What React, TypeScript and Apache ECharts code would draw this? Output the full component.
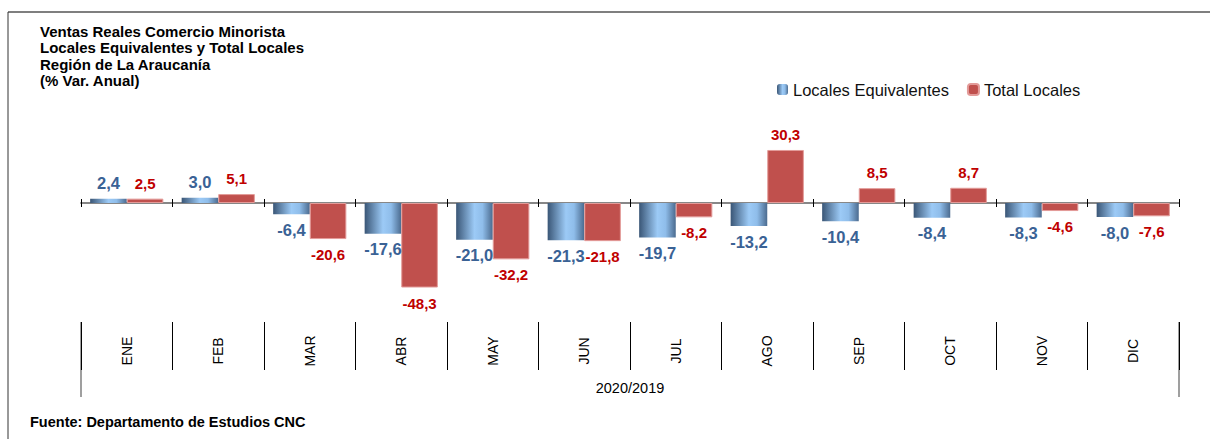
import React, { useEffect, useRef } from "react";
import * as echarts from "echarts";

const categories = ["ENE", "FEB", "MAR", "ABR", "MAY", "JUN", "JUL", "AGO", "SEP", "OCT", "NOV", "DIC"];
const equivalentes = [2.4, 3.0, -6.4, -17.6, -21.0, -21.3, -19.7, -13.2, -10.4, -8.4, -8.3, -8.0];
const totales = [2.5, 5.1, -20.6, -48.3, -32.2, -21.8, -8.2, 30.3, 8.5, 8.7, -4.6, -7.6];
const seriesNames = ["Locales Equivalentes", "Total Locales"];
const titleLines = [
  "Ventas Reales Comercio Minorista",
  "Locales Equivalentes y Total Locales",
  "Región de La Araucanía",
  "(% Var. Anual)",
];
const periodLabel = "2020/2019";
const sourceText = "Fuente: Departamento de Estudios CNC";

const FONT = "'Liberation Sans', Arial, sans-serif";
const fmt = (v: number) => v.toFixed(1).replace(".", ",");

const blueGradient = new echarts.graphic.LinearGradient(0, 0, 1, 0, [
  { offset: 0, color: "#3a5676" },
  { offset: 0.5, color: "#9ccaf6" },
  { offset: 0.72, color: "#8fbdea" },
  { offset: 1, color: "#4b6b8f" },
]);

function toData(values: number[]) {
  return values.map((v) => ({
    value: v,
    label: { position: v >= 0 ? "top" : "bottom" },
  }));
}

export default function App() {
  const ref = useRef<HTMLDivElement>(null);
  useEffect(() => {
    document.body.style.margin = "0";
    const chart = echarts.init(ref.current!, null, { renderer: "svg" });
    const gridLeft = 81;
    const gridRight = 31;
    const axisBottom = 322;
    const width = 1210;
    const yMin = -68;
    const yMax = 40;
    chart.setOption({
      animation: false,
      backgroundColor: "#fff",
      title: {
        text: titleLines.join("\n"),
        left: 40,
        top: 23,
        padding: 0,
        textStyle: { fontFamily: FONT, fontSize: 15, fontWeight: "bold", color: "#000", lineHeight: 16.5 },
      },
      legend: {
        left: 772,
        top: 76,
        itemWidth: 11,
        itemHeight: 11,
        itemGap: 18,
        data: seriesNames,
        textStyle: { fontFamily: FONT, fontSize: 16.5, color: "#111" },
      },
      grid: { left: gridLeft, right: gridRight, top: 133, bottom: 439 - axisBottom },
      xAxis: [
        {
          type: "category",
          data: categories,
          position: "bottom",
          axisLine: { show: false, onZero: false },
          axisTick: { show: true, length: 48, lineStyle: { color: "#000" } },
          axisLabel: {
            rotate: 90,
            margin: 29,
            align: "center",
            verticalAlign: "middle",
            fontFamily: FONT,
            fontSize: 14,
            color: "#000",
          },
        },
        {
          type: "category",
          data: categories,
          position: "bottom",
          axisLine: { show: true, onZero: true, onZeroAxisIndex: 0, lineStyle: { color: "#7f7f7f", width: 1.5 } },
          axisTick: { show: true, length: 4, lineStyle: { color: "#000" } },
          axisLabel: { show: false },
        },
        {
          type: "category",
          data: categories,
          position: "top",
          axisLine: { show: true, onZero: true, onZeroAxisIndex: 1, lineStyle: { color: "#7f7f7f", width: 1.5 } },
          axisTick: { show: true, length: 4, lineStyle: { color: "#000" } },
          axisLabel: { show: false },
        },
      ],
      yAxis: [
        { type: "value", min: yMin, max: yMax, show: false, splitLine: { show: false } },
        { type: "value", min: yMin, max: yMax, show: false, splitLine: { show: false } },
      ],
      series: [
        {
          name: seriesNames[0],
          type: "bar",
          xAxisIndex: 0,
          yAxisIndex: 0,
          data: toData(equivalentes),
          barGap: "0%",
          barCategoryGap: "20%",
          itemStyle: { color: blueGradient },
          label: {
            show: true,
            distance: 7,
            formatter: (p: any) => fmt(p.value),
            fontFamily: FONT,
            fontSize: 16.5,
            fontWeight: "bold",
            color: "#3a6295",
          },
        },
        {
          name: seriesNames[1],
          type: "bar",
          xAxisIndex: 0,
          yAxisIndex: 0,
          data: toData(totales),
          itemStyle: { color: "#c0504d", borderColor: "#e39b99", borderWidth: 1 },
          label: {
            show: true,
            distance: 8,
            formatter: (p: any) => fmt(p.value),
            fontFamily: FONT,
            fontSize: 15,
            fontWeight: "bold",
            color: "#c00000",
          },
        },
      ],
      graphic: [
        { type: "line", shape: { x1: 8, y1: 12, x2: width, y2: 12 }, style: { stroke: "#7f7f7f", lineWidth: 2 } },
        { type: "line", shape: { x1: 8, y1: 12, x2: 8, y2: 439 }, style: { stroke: "#333", lineWidth: 1 } },
        { type: "line", shape: { x1: gridLeft, y1: axisBottom, x2: gridLeft, y2: 397 }, style: { stroke: "#7f7f7f", lineWidth: 1.5 } },
        { type: "line", shape: { x1: width - gridRight, y1: axisBottom, x2: width - gridRight, y2: 397 }, style: { stroke: "#7f7f7f", lineWidth: 1.5 } },
        {
          type: "text",
          x: (gridLeft + width - gridRight) / 2,
          y: 388,
          style: { text: periodLabel, fontFamily: FONT, fontSize: 14.5, fill: "#000", textAlign: "center", textVerticalAlign: "middle" },
        },
        {
          type: "text",
          x: 30,
          y: 422,
          style: { text: sourceText, fontFamily: FONT, fontSize: 14.5, fontWeight: "bold", fill: "#000", textVerticalAlign: "middle" },
        },
      ],
    });
    return () => chart.dispose();
  }, []);
  return <div ref={ref} style={{ width: 1210, height: 439 }} />;
}
